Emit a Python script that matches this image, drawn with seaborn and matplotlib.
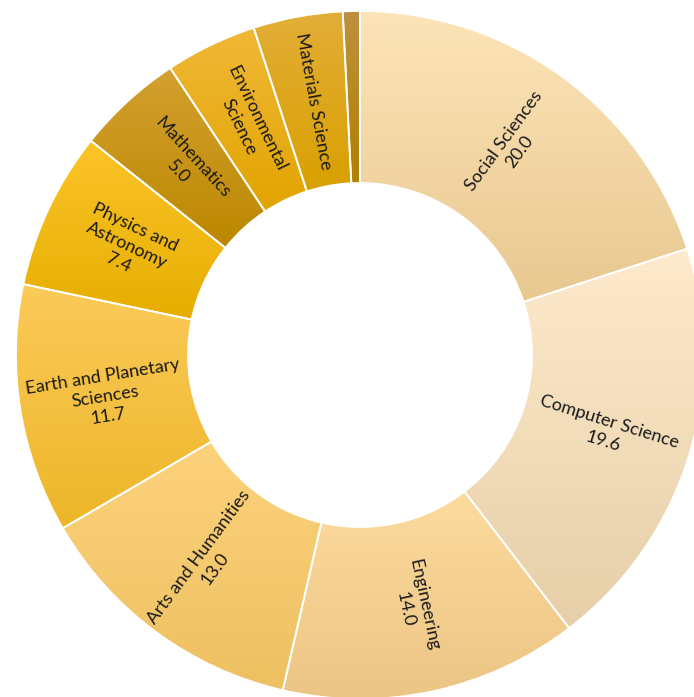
"""
Donut chart: share of publications by subject area (%).
"""

import matplotlib
matplotlib.use("Agg")
import matplotlib.pyplot as plt
import matplotlib.colors as mcolors
from matplotlib.patches import Wedge
import numpy as np
import seaborn as sns

# ==========================================
# DATA
# ==========================================
subjects = [
    "Social Sciences", "Computer Science", "Engineering", "Arts and Humanities",
    "Earth and Planetary Sciences", "Physics and Astronomy", "Mathematics",
    "Environmental Science", "Materials Science", "Other",
]
shares = [20.0, 19.6, 14.0, 13.0, 11.7, 7.4, 5.0, 4.3, 4.2, 0.8]
labels = [
    "Social Sciences\n20.0", "Computer Science\n19.6", "Engineering\n14.0",
    "Arts and Humanities\n13.0", "Earth and Planetary\nSciences\n11.7",
    "Physics and\nAstronomy\n7.4", "Mathematics\n5.0",
    "Environmental\nScience", "Materials Science", "",
]

# top / bottom of each slice's vertical gradient
top_colors = ["#FDE4B8", "#FEEACC", "#FDDA9E", "#FDD27C", "#FCCA5A",
              "#FCC42A", "#D4A030", "#F0B838", "#E3AE38", "#C09040"]
bottom_colors = ["#E8C890", "#E6CFA8", "#EBC584", "#EDC061", "#EDB628",
                 "#E6AE00", "#BC8800", "#E2A400", "#D9A000", "#B08000"]


def main():
    sns.set_theme(style="white")
    plt.rcParams["font.family"] = ["Lato", "DejaVu Sans"]

    fig = plt.figure(figsize=(6.94, 6.97), dpi=100)
    ax = fig.add_axes([0, 0, 1, 1])

    mid_colors = [
        tuple((np.array(mcolors.to_rgb(t)) + np.array(mcolors.to_rgb(b))) / 2)
        for t, b in zip(top_colors, bottom_colors)
    ]
    wedges, _ = ax.pie(
        shares, colors=mid_colors, startangle=90, counterclock=False,
        wedgeprops=dict(width=0.5, edgecolor="white", linewidth=1.3),
    )

    # vertical gradient fill, clipped to each wedge
    for w, top, bot in zip(wedges, top_colors, bottom_colors):
        bb = w.get_path().get_extents(w.get_patch_transform())
        cmap = mcolors.LinearSegmentedColormap.from_list("g", [bot, top])
        grad = np.linspace(0, 1, 256).reshape(-1, 1)
        im = ax.imshow(grad, cmap=cmap, origin="lower", aspect="auto",
                       extent=[bb.x0, bb.x1, bb.y0, bb.y1], zorder=1.5)
        im.set_clip_path(w)
        w.set_zorder(1)

    # white separators on top of gradients
    for w in wedges:
        ax.add_patch(Wedge(w.center, w.r, w.theta1, w.theta2, width=w.width,
                           facecolor="none", edgecolor="white",
                           linewidth=1.3, zorder=2))

    # radial labels
    for w, lab in zip(wedges, labels):
        if not lab:
            continue
        ang = (w.theta1 + w.theta2) / 2
        rad = np.deg2rad(ang)
        x, y = 0.75 * np.cos(rad), 0.75 * np.sin(rad)
        rot = ang % 360
        if 90 < rot < 270:
            rot -= 180
        ax.text(x, y, lab, ha="center", va="center", rotation=rot,
                rotation_mode="anchor", fontsize=13, color="#1a1a1a",
                linespacing=1.3, zorder=3)

    R = 344.0
    ax.set_xlim(-360 / R, (694 - 360) / R)
    ax.set_ylim(-(697 - 355) / R, 355 / R)
    ax.set_aspect("auto")
    ax.axis("off")

    fig.savefig("out.png", dpi=100)
    plt.close(fig)


if __name__ == "__main__":
    main()
